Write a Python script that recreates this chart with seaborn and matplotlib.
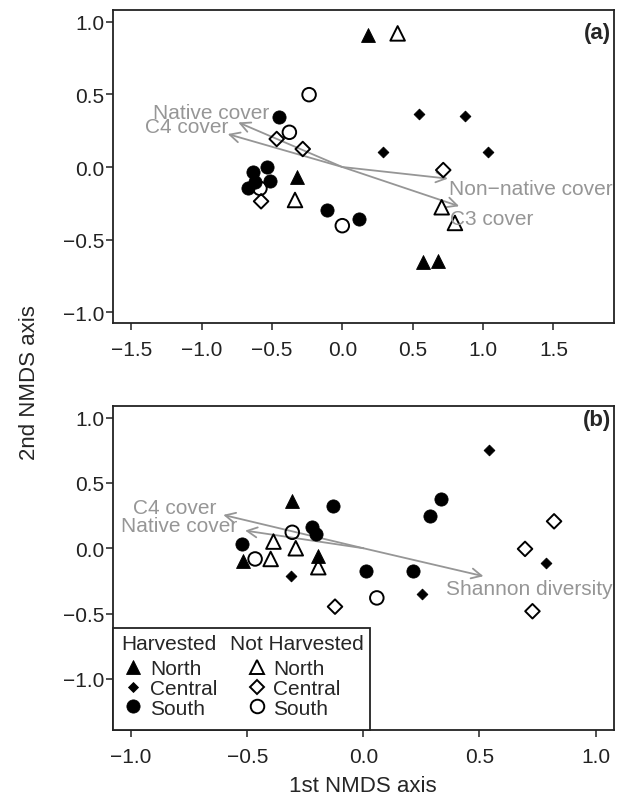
import numpy as np
import pandas as pd
import matplotlib
matplotlib.use("Agg")
import matplotlib.pyplot as plt
import seaborn as sns
from matplotlib.lines import Line2D
from matplotlib.patches import Rectangle

# ---- panel (a) ordination scores ----
a_harvest = ["H"] * 4 + ["N"] * 4 + ["H"] * 4 + ["N"] * 4 + ["H"] * 8 + ["N"] * 4
a_region = (["North"] * 8 + ["Central"] * 8 + ["South"] * 12)
a_x = [0.185, -0.324, 0.575, 0.682,
       0.393, -0.336, 0.706, 0.800,
       0.545, 0.871, 0.291, 1.033,
       -0.466, -0.281, 0.717, -0.577,
       -0.450, -0.632, -0.537, -0.620, -0.513, -0.668, -0.111, 0.121,
       -0.236, -0.376, -0.585, 0.000]
a_y = [0.908, -0.071, -0.656, -0.649,
       0.920, -0.227, -0.277, -0.385,
       0.365, 0.353, 0.101, 0.101,
       0.193, 0.124, -0.021, -0.236,
       0.342, -0.032, -0.002, -0.105, -0.098, -0.145, -0.296, -0.358,
       0.498, 0.239, -0.147, -0.404]

# fitted vectors (a)
a_vec_names = ["Native cover", "C4 cover", "Non\u2212native cover", "C3 cover"]
a_vec_x = [-0.739, -0.814, 0.750, 0.830]
a_vec_y = [0.307, 0.227, -0.080, -0.270]
a_lab_x = [-0.934, -1.105, 1.340, 1.060]
a_lab_y = [0.372, 0.282, -0.150, -0.357]

# ---- panel (b) ordination scores ----
b_harvest = ["H"] * 3 + ["N"] * 4 + ["H"] * 4 + ["N"] * 4 + ["H"] * 8 + ["N"] * 3
b_region = (["North"] * 7 + ["Central"] * 8 + ["South"] * 11)
b_x = [-0.308, -0.517, -0.194,
       -0.387, -0.291, -0.399, -0.194,
       0.543, 0.787, -0.311, 0.251,
       0.821, 0.696, -0.122, 0.728,
       -0.524, -0.132, -0.222, -0.204, 0.010, 0.213, 0.287, 0.333,
       -0.306, -0.466, 0.058]
b_y = [0.364, -0.095, -0.057,
       0.051, 0.000, -0.082, -0.145,
       0.755, -0.115, -0.209, -0.350,
       0.206, -0.005, -0.447, -0.482,
       0.033, 0.321, 0.165, 0.109, -0.176, -0.171, 0.245, 0.377,
       0.122, -0.082, -0.380]

b_vec_names = ["C4 cover", "Native cover", "Shannon diversity"]
b_vec_x = [-0.603, -0.509, 0.517]
b_vec_y = [0.255, 0.135, -0.214]
b_lab_x = [-0.814, -0.793, 0.714]
b_lab_y = [0.312, 0.176, -0.305]

regions = ["North", "Central", "South"]

sns.set_theme(style="ticks")
plt.rcParams['font.family'] = ['Liberation Sans', 'DejaVu Sans']
plt.rcParams['axes.unicode_minus'] = True

GRAY = "#969696"
FS = 15

# marker style per (harvest, region)
styles = {
    ("H", "North"): dict(marker="^", s=100, facecolor="black"),
    ("H", "Central"): dict(marker="D", s=30, facecolor="black"),
    ("H", "South"): dict(marker="o", s=90, facecolor="black"),
    ("N", "North"): dict(marker="^", s=110, facecolor="none"),
    ("N", "Central"): dict(marker="D", s=55, facecolor="none"),
    ("N", "South"): dict(marker="o", s=95, facecolor="none"),
}

W, H = 627, 803


def fx(px):
    return px / W


def fy(py):
    return 1 - py / H


def minus_labels(vals):
    return [f"{v:.1f}".replace("-", "\u2212") for v in vals]


fig = plt.figure(figsize=(W / 100, H / 100), dpi=100)
ax_a = fig.add_axes([fx(112.7), fy(324.3), (614 - 112.7) / W, (324.3 - 10.7) / H])
ax_b = fig.add_axes([fx(112.7), fy(731.3), (614 - 112.7) / W, (731.3 - 407.3) / H])


def draw_panel(ax, harvest, region, x, y, names, vx, vy, lx, ly):
    df = pd.DataFrame({"harvest": harvest, "region": region, "x": x, "y": y})
    for (hv, rg), sub in df.groupby(["harvest", "region"], sort=False):
        st = styles[(hv, rg)]
        sns.scatterplot(data=sub, x="x", y="y", ax=ax, marker=st["marker"],
                        s=st["s"], facecolor=st["facecolor"], edgecolor="black",
                        linewidth=1.4 if st["facecolor"] == "none" else 0.6,
                        zorder=3, legend=False)
    for name, ex, ey, tx, ty in zip(names, vx, vy, lx, ly):
        ax.annotate("", xy=(ex, ey), xytext=(0, 0),
                    arrowprops=dict(arrowstyle="->,head_length=0.6,head_width=0.3",
                                    color=GRAY, lw=1.3, shrinkA=0, shrinkB=0),
                    zorder=2)
        ax.text(tx, ty, name, color=GRAY, fontsize=FS, ha="center", va="center", zorder=4)
    ax.set_xlabel("")
    ax.set_ylabel("")
    for sp in ax.spines.values():
        sp.set_visible(True)
        sp.set_linewidth(1.3)
        sp.set_color("#222222")
    ax.tick_params(direction="out", length=5, width=1.1, colors="#222222",
                   labelsize=FS, labelcolor="#222222")
    ax.tick_params(axis="x", pad=7)
    ax.tick_params(axis="y", pad=1)
    ax.set_yticks([-1.0, -0.5, 0.0, 0.5, 1.0])
    ax.set_yticklabels(minus_labels(ax.get_yticks()))


draw_panel(ax_a, a_harvest, a_region, a_x, a_y, a_vec_names, a_vec_x, a_vec_y, a_lab_x, a_lab_y)
ax_a.set_xlim(-1.631, 1.93)
ax_a.set_ylim(-1.076, 1.083)
ax_a.set_xticks([-1.5, -1.0, -0.5, 0.0, 0.5, 1.0, 1.5])
ax_a.set_xticklabels(minus_labels(ax_a.get_xticks()))

draw_panel(ax_b, b_harvest, b_region, b_x, b_y, b_vec_names, b_vec_x, b_vec_y, b_lab_x, b_lab_y)
ax_b.set_xlim(-1.079, 1.079)
ax_b.set_ylim(-1.393, 1.086)
ax_b.set_xticks([-1.0, -0.5, 0.0, 0.5, 1.0])
ax_b.set_xticklabels(minus_labels(ax_b.get_xticks()))

fig.text(fx(610.7), fy(33.3), "(a)", fontsize=16, fontweight="bold", ha="right", va="center")
fig.text(fx(610.7), fy(420.7), "(b)", fontsize=16, fontweight="bold", ha="right", va="center")

# legend box in panel (b)
ax_b.add_patch(Rectangle((0, 0), (370 - 112.7) / (614 - 112.7), (731.3 - 629.3) / 324.0,
                         transform=ax_b.transAxes, facecolor="white", edgecolor="#222222",
                         lw=1.3, zorder=5, clip_on=False))
fig.text(fx(121.5), fy(645), "Harvested", fontsize=FS, ha="left", va="center", zorder=6)
fig.text(fx(230), fy(645), "Not Harvested", fontsize=FS, ha="left", va="center", zorder=6)

for hv, left in [("H", 122.7), ("N", 246.1)]:
    handles = []
    for rg in regions:
        st = styles[(hv, rg)]
        handles.append(Line2D([], [], linestyle="none", marker=st["marker"],
                              markersize=np.sqrt(st["s"]),
                              markerfacecolor=st["facecolor"], markeredgecolor="black",
                              markeredgewidth=1.4 if st["facecolor"] == "none" else 0.6,
                              label=rg))
    fig.legend(handles=handles, loc="upper left", bbox_to_anchor=(fx(left), fy(660)),
               bbox_transform=fig.transFigure, frameon=False, fontsize=FS,
               borderpad=0, borderaxespad=0, handlelength=1.02, handletextpad=0.29,
               labelspacing=0.04)

fig.text(fx(363.3), fy(787), "1st NMDS axis", fontsize=16, ha="center", va="center")
fig.text(fx(30), fy(383), "2nd NMDS axis", fontsize=16, ha="center", va="center", rotation=90)

fig.savefig("out.png", dpi=100)
